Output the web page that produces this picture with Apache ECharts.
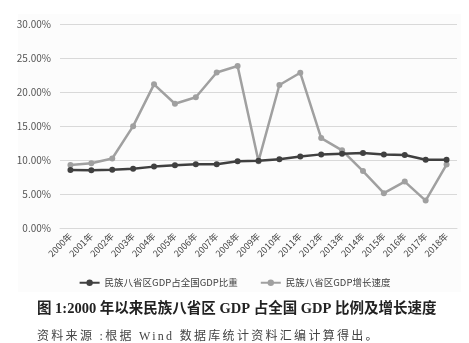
<!DOCTYPE html>
<html><head><meta charset="utf-8">
<script src="https://cdn.jsdelivr.net/npm/echarts@6/dist/echarts.min.js"></script>
<style>html,body{margin:0;padding:0;background:#fff}#wrap{position:relative;width:469px;height:343px}#c{width:469px;height:343px}
#src{position:absolute;left:37px;top:329px;font-family:'Liberation Serif','Noto Sans CJK SC',serif;font-size:12px;letter-spacing:2.3px;color:#444;white-space:nowrap;line-height:14px}</style>
</head><body><div id="wrap"><div id="c"></div><div id="src"></div></div>
<script>
const years = ['2000年','2001年','2002年','2003年','2004年','2005年','2006年','2007年','2008年','2009年','2010年','2011年','2012年','2013年','2014年','2015年','2016年','2017年','2018年'];
const shareName = '民族八省区GDP占全国GDP比重';
const growthName = '民族八省区GDP增长速度';
const share = [8.6, 8.55, 8.65, 8.8, 9.1, 9.3, 9.45, 9.45, 9.9, 9.95, 10.2, 10.6, 10.9, 11.0, 11.1, 10.9, 10.8, 10.1, 10.1];
const growth = [9.35, 9.6, 10.3, 15.05, 21.2, 18.35, 19.3, 22.95, 23.9, 9.9, 21.1, 22.9, 13.3, 11.5, 8.45, 5.2, 6.9, 4.1, 9.4];
const yTicks = {min: 0, max: 30, interval: 5};
const titleText = '图 1:2000 年以来民族八省区 GDP 占全国 GDP 比例及增长速度';
const sourceText = '资料来源 :根据 Wind 数据库统计资料汇编计算得出。';

document.getElementById('src').textContent = sourceText;
const chart = echarts.init(document.getElementById('c'));
const serif = "'Liberation Serif','Noto Sans CJK SC',serif";
const sans = "'Noto Sans CJK SC','Noto Sans',sans-serif";
chart.setOption({
  animation: false,
  backgroundColor: '#fff',
  graphic: [
    {type: 'rect', left: 18, top: 14, shape: {width: 443, height: 278}, style: {fill: '#fcfcfc', stroke: null}, z: -10},
    {type: 'text', left: 37, top: 302, style: {text: titleText, font: "bold 14.5px " + serif, fill: '#222'}}
  ],
  grid: {left: 60, right: 12, top: 24.5, bottom: 114.5},
  legend: {
    top: 273, left: 'center', itemWidth: 20, itemHeight: 8, itemGap: 22,
    textStyle: {fontSize: 9.5, color: '#404040', fontFamily: sans},
    data: [shareName, growthName]
  },
  xAxis: {
    type: 'category', data: years, boundaryGap: true,
    axisLine: {show: true, lineStyle: {color: '#d9d9d9'}},
    axisTick: {show: false},
    axisLabel: {rotate: 45, fontSize: 9, color: '#444', margin: 6, interval: 0, fontFamily: sans}
  },
  yAxis: {
    type: 'value', min: yTicks.min, max: yTicks.max, interval: yTicks.interval,
    axisLine: {show: false}, axisTick: {show: false},
    splitLine: {lineStyle: {color: '#d9d9d9', width: 1}},
    axisLabel: {formatter: v => v.toFixed(2) + '%', fontSize: 10, color: '#555', margin: 9, fontFamily: sans}
  },
  series: [
    {name: shareName, type: 'line', data: share, symbol: 'circle', symbolSize: 6,
     lineStyle: {color: '#404040', width: 2.5}, itemStyle: {color: '#404040'}, z: 3},
    {name: growthName, type: 'line', data: growth, symbol: 'circle', symbolSize: 6,
     lineStyle: {color: '#a0a0a0', width: 2.5}, itemStyle: {color: '#a0a0a0'}, z: 2}
  ]
});
</script></body></html>
